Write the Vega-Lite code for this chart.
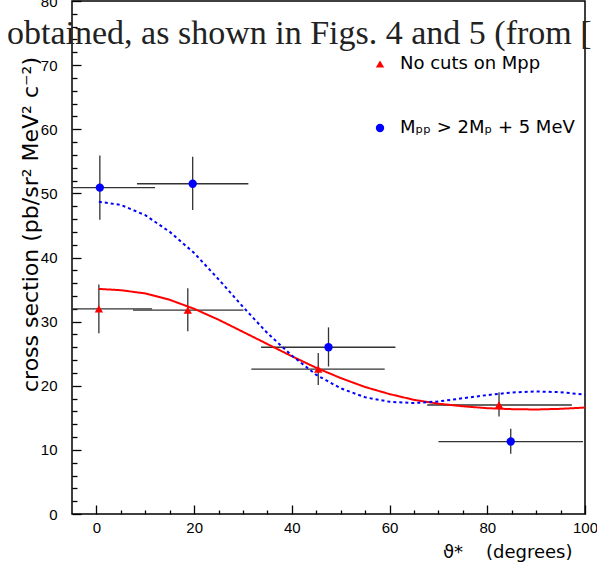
{
  "$schema": "https://vega.github.io/schema/vega-lite/v6.json",
  "width": 513,
  "height": 513,
  "autosize": {"type": "none"},
  "padding": {"left": 72, "top": 1, "right": 12, "bottom": 57},
  "background": "white",
  "title": {
    "text": "obtained, as shown in Figs. 4 and 5 (from [",
    "anchor": "start",
    "frame": "group",
    "orient": "top",
    "offset": 0,
    "baseline": "alphabetic",
    "font": "Liberation Serif",
    "fontSize": 34,
    "fontWeight": "normal",
    "color": "#222222",
    "dx": -65,
    "dy": 84
  },
  "config": {
    "view": {"stroke": "black", "strokeWidth": 1.5},
    "axis": {
      "domain": false,
      "tickColor": "black",
      "tickWidth": 1.3,
      "ticks": true,
      "grid": false,
      "labelFont": "Liberation Sans",
      "labelFontSize": 15,
      "labelColor": "black",
      "titleFont": "DejaVu Sans",
      "titleFontWeight": "normal",
      "titleColor": "black",
      "labelFlush": false,
      "labelOverlap": false
    },
    "legend": {
      "orient": "none",
      "legendX": 299,
      "legendY": 54,
      "padding": 0,
      "labelFont": "DejaVu Sans",
      "labelFontSize": 18,
      "labelColor": "black",
      "labelOffset": 11,
      "labelLimit": 0,
      "rowPadding": 46,
      "symbolSize": 70,
      "symbolStrokeWidth": 0
    }
  },
  "datasets": {
    "points": [
      {"series": "No cuts on Mpp", "x": 0.5, "y": 32.0, "xlo": -10.5, "xhi": 11.4, "ylo": 28.2, "yhi": 35.8},
      {"series": "No cuts on Mpp", "x": 18.7, "y": 31.8, "xlo": 7.5, "xhi": 30.1, "ylo": 28.5, "yhi": 35.2},
      {"series": "No cuts on Mpp", "x": 45.4, "y": 22.6, "xlo": 31.7, "xhi": 59.0, "ylo": 20.1, "yhi": 25.1},
      {"series": "No cuts on Mpp", "x": 82.4, "y": 17.0, "xlo": 67.7, "xhi": 97.3, "ylo": 15.2, "yhi": 19.0},
      {"series": "Mₚₚ > 2Mₚ + 5 MeV", "x": 0.7, "y": 50.9, "xlo": -10.6, "xhi": 12.0, "ylo": 45.9, "yhi": 55.9},
      {"series": "Mₚₚ > 2Mₚ + 5 MeV", "x": 19.7, "y": 51.5, "xlo": 8.3, "xhi": 31.1, "ylo": 47.4, "yhi": 55.7},
      {"series": "Mₚₚ > 2Mₚ + 5 MeV", "x": 47.5, "y": 26.0, "xlo": 33.7, "xhi": 61.2, "ylo": 23.0, "yhi": 29.1},
      {"series": "Mₚₚ > 2Mₚ + 5 MeV", "x": 84.8, "y": 11.3, "xlo": 70.0, "xhi": 99.6, "ylo": 9.4, "yhi": 13.3}
    ],
    "curves": [
      {"series": "No cuts on Mpp", "x": 0.5, "y": 35.1},
      {"series": "No cuts on Mpp", "x": 5, "y": 34.9},
      {"series": "No cuts on Mpp", "x": 10, "y": 34.4},
      {"series": "No cuts on Mpp", "x": 15, "y": 33.4},
      {"series": "No cuts on Mpp", "x": 20, "y": 32.0},
      {"series": "No cuts on Mpp", "x": 25, "y": 30.3},
      {"series": "No cuts on Mpp", "x": 30, "y": 28.4},
      {"series": "No cuts on Mpp", "x": 35, "y": 26.5},
      {"series": "No cuts on Mpp", "x": 40, "y": 24.6},
      {"series": "No cuts on Mpp", "x": 45, "y": 22.8},
      {"series": "No cuts on Mpp", "x": 50, "y": 21.2},
      {"series": "No cuts on Mpp", "x": 55, "y": 19.8},
      {"series": "No cuts on Mpp", "x": 60, "y": 18.7},
      {"series": "No cuts on Mpp", "x": 65, "y": 17.8},
      {"series": "No cuts on Mpp", "x": 70, "y": 17.2},
      {"series": "No cuts on Mpp", "x": 75, "y": 16.8},
      {"series": "No cuts on Mpp", "x": 80, "y": 16.5},
      {"series": "No cuts on Mpp", "x": 85, "y": 16.35},
      {"series": "No cuts on Mpp", "x": 90, "y": 16.3},
      {"series": "No cuts on Mpp", "x": 95, "y": 16.4},
      {"series": "No cuts on Mpp", "x": 100, "y": 16.6},
      {"series": "Mₚₚ > 2Mₚ + 5 MeV", "x": 0.5, "y": 48.7},
      {"series": "Mₚₚ > 2Mₚ + 5 MeV", "x": 5, "y": 48.2},
      {"series": "Mₚₚ > 2Mₚ + 5 MeV", "x": 10, "y": 46.6},
      {"series": "Mₚₚ > 2Mₚ + 5 MeV", "x": 15, "y": 44.0},
      {"series": "Mₚₚ > 2Mₚ + 5 MeV", "x": 20, "y": 40.7},
      {"series": "Mₚₚ > 2Mₚ + 5 MeV", "x": 25, "y": 36.6},
      {"series": "Mₚₚ > 2Mₚ + 5 MeV", "x": 30, "y": 32.3},
      {"series": "Mₚₚ > 2Mₚ + 5 MeV", "x": 35, "y": 28.2},
      {"series": "Mₚₚ > 2Mₚ + 5 MeV", "x": 40, "y": 24.7},
      {"series": "Mₚₚ > 2Mₚ + 5 MeV", "x": 45, "y": 21.7},
      {"series": "Mₚₚ > 2Mₚ + 5 MeV", "x": 50, "y": 19.6},
      {"series": "Mₚₚ > 2Mₚ + 5 MeV", "x": 55, "y": 18.2},
      {"series": "Mₚₚ > 2Mₚ + 5 MeV", "x": 60, "y": 17.5},
      {"series": "Mₚₚ > 2Mₚ + 5 MeV", "x": 65, "y": 17.3},
      {"series": "Mₚₚ > 2Mₚ + 5 MeV", "x": 70, "y": 17.55},
      {"series": "Mₚₚ > 2Mₚ + 5 MeV", "x": 75, "y": 18.05},
      {"series": "Mₚₚ > 2Mₚ + 5 MeV", "x": 80, "y": 18.55},
      {"series": "Mₚₚ > 2Mₚ + 5 MeV", "x": 85, "y": 18.95},
      {"series": "Mₚₚ > 2Mₚ + 5 MeV", "x": 90, "y": 19.1},
      {"series": "Mₚₚ > 2Mₚ + 5 MeV", "x": 95, "y": 19.0},
      {"series": "Mₚₚ > 2Mₚ + 5 MeV", "x": 100, "y": 18.6}
    ]
  },
  "resolve": {
    "scale": {"color": "independent", "strokeDash": "independent", "shape": "independent"},
    "axis": {"x": "independent", "y": "independent"}
  },
  "layer": [
    {
      "data": {"name": "points"},
      "mark": {"type": "rule", "color": "#333333", "strokeWidth": 1.3, "clip": true},
      "encoding": {
        "x": {
          "field": "xlo", "type": "quantitative",
          "scale": {"domain": [-5, 100], "nice": false, "zero": false},
          "axis": {
            "orient": "bottom",
            "offset": -9,
            "values": [0, 20, 40, 60, 80, 100],
            "tickSize": 9,
            "labelPadding": 6,
            "title": "ϑ*\u00a0\u00a0\u00a0\u00a0(degrees)",
            "titleFontSize": 18,
            "titleX": 500,
            "titleY": 52,
            "titleAlign": "right",
            "titleBaseline": "alphabetic",
            "titleAnchor": null
          }
        },
        "x2": {"field": "xhi"},
        "y": {
          "field": "y", "type": "quantitative",
          "scale": {"domain": [0, 80], "nice": false, "zero": false},
          "axis": {
            "orient": "left",
            "offset": -9,
            "values": [0, 10, 20, 30, 40, 50, 60, 70, 80],
            "tickSize": 9,
            "labelPadding": 15,
            "title": "cross section (pb/sr² MeV² c⁻²)",
            "titleFontSize": 22,
            "titleAngle": -90,
            "titleX": -44,
            "titleY": 223,
            "titleAlign": "center",
            "titleBaseline": "alphabetic"
          }
        }
      }
    },
    {
      "data": {"name": "points"},
      "mark": {"type": "rule", "color": "#333333", "strokeWidth": 1.3, "clip": true},
      "encoding": {
        "x": {
          "field": "x", "type": "quantitative",
          "axis": {
            "orient": "bottom",
            "offset": -4,
            "values": [5, 10, 15, 25, 30, 35, 45, 50, 55, 65, 70, 75, 85, 90, 95],
            "tickSize": 4,
            "labels": false,
            "title": null
          }
        },
        "y": {
          "field": "ylo", "type": "quantitative",
          "axis": {
            "orient": "left",
            "offset": -5,
            "values": [2, 4, 6, 8, 12, 14, 16, 18, 22, 24, 26, 28, 32, 34, 36, 38, 42, 44, 46, 48, 52, 54, 56, 58, 62, 64, 66, 68, 72, 74, 76, 78],
            "tickSize": 5,
            "labels": false,
            "title": null
          }
        },
        "y2": {"field": "yhi"}
      }
    },
    {
      "data": {"name": "curves"},
      "mark": {"type": "line", "strokeWidth": 2, "clip": true},
      "encoding": {
        "x": {"field": "x", "type": "quantitative", "axis": null},
        "y": {"field": "y", "type": "quantitative", "axis": null},
        "color": {
          "field": "series", "type": "nominal",
          "scale": {"domain": ["No cuts on Mpp", "Mₚₚ > 2Mₚ + 5 MeV"], "range": ["#ff0000", "#0000ff"]},
          "legend": null
        },
        "strokeDash": {
          "field": "series", "type": "nominal",
          "scale": {"domain": ["No cuts on Mpp", "Mₚₚ > 2Mₚ + 5 MeV"], "range": [[1, 0], [3, 3]]},
          "legend": null
        }
      }
    },
    {
      "data": {"name": "points"},
      "mark": {"type": "point", "filled": true, "opacity": 1, "size": 70},
      "encoding": {
        "x": {"field": "x", "type": "quantitative", "axis": null},
        "y": {"field": "y", "type": "quantitative", "axis": null},
        "color": {
          "field": "series", "type": "nominal",
          "scale": {"domain": ["No cuts on Mpp", "Mₚₚ > 2Mₚ + 5 MeV"], "range": ["#ff0000", "#0000ff"]},
          "legend": {"title": null}
        },
        "shape": {
          "field": "series", "type": "nominal",
          "scale": {"domain": ["No cuts on Mpp", "Mₚₚ > 2Mₚ + 5 MeV"], "range": ["triangle-up", "circle"]},
          "legend": {"title": null}
        }
      }
    }
  ]
}
